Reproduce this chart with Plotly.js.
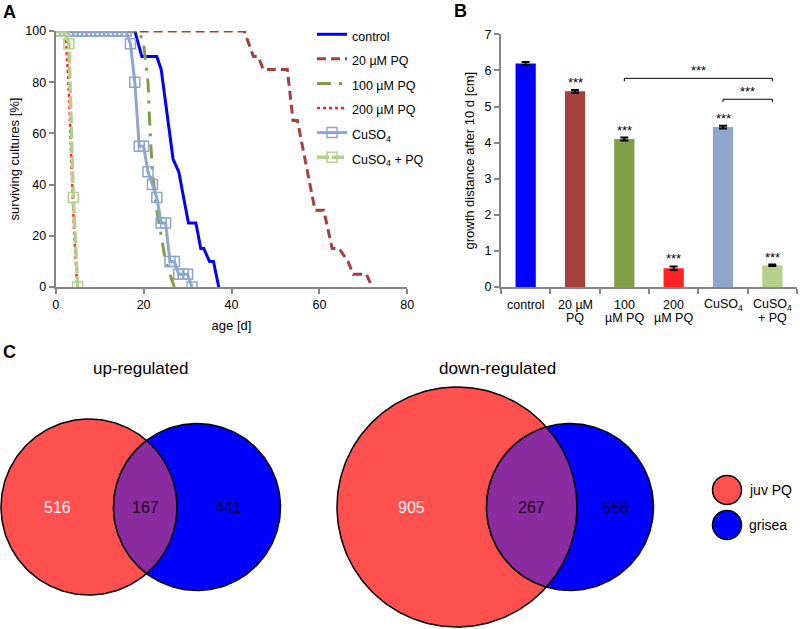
<!DOCTYPE html>
<html>
<head>
<meta charset="utf-8">
<script src="https://cdn.plot.ly/plotly-3.0.1.min.js"></script>
<style>
  html, body { margin: 0; padding: 0; background: #fff; }
  #gd { width: 800px; height: 629px; }
</style>
</head>
<body>
<div id="gd"></div>
<script>
// ---- panel A: surviving cultures [%] vs age [d]
var controlAge  = [0, 18, 19.6, 23, 24, 26.7, 28, 30.2, 31.9, 33, 33.7, 35, 35.9, 37.1];
var controlSurv = [100, 100, 90, 90, 85, 50, 45, 25, 25, 15, 15, 10, 10, 0];

var pq20Age  = [0, 42.9, 45, 46.1, 47.2, 52.7, 54, 55, 59, 61, 62.9, 64.5, 66.5, 67.7, 70.7, 72];
var pq20Surv = [100, 100, 90, 90, 85, 85, 65, 65, 30, 30, 15, 15, 10, 5, 5, 0];

var pq100Age  = [0, 19, 20, 21, 21.5, 22, 23, 24, 25, 26, 27];
var pq100Surv = [100, 100, 95, 80, 60, 45, 30, 20, 10, 5, 0];

var pq200Age  = [0, 2, 2.4, 3.1, 3.6, 4.2, 4.8, 5];
var pq200Surv = [100, 100, 95, 73, 47, 21, 3, 0];

var cuAge  = [0, 1, 2, 3, 4, 5, 6, 7, 8, 9, 10, 11, 12, 13, 14, 15, 16, 17, 18, 19, 20, 21, 22, 23, 24, 25, 26, 27, 28, 29, 30, 31];
var cuSurv = [100, 100, 100, 100, 100, 100, 100, 100, 100, 100, 100, 100, 100, 100, 100, 100, 100, 95, 80, 55, 55, 45, 40, 35, 25, 25, 10, 10, 5, 5, 5, 0];

var cuPqAge  = [0, 1, 2, 3, 4, 5];
var cuPqSurv = [100, 100, 100, 95, 35, 0];

// ---- panel B: growth distance after 10 d [cm]
var growthCats  = ['control', '20 µM PQ', '100 µM PQ', '200 µM PQ', 'CuSO4', 'CuSO4 + PQ'];
var growthLine1 = ['control', '20 µM', '100', '200', 'CuSO<sub>4</sub>', 'CuSO<sub>4</sub>'];
var growthLine2 = ['', 'PQ', 'µM PQ', 'µM PQ', '', '+ PQ'];
var growthMean  = [6.19, 5.42, 4.10, 0.52, 4.43, 0.60];
var growthErr   = [0.04, 0.04, 0.04, 0.05, 0.04, 0.02];
var growthStars = ['', '***', '***', '***', '***', '***'];
var bracketPairs  = [[2, 5], [4, 5]];
var bracketLevels = [5.78, 5.2];
var bracketLabels = ['***', '***'];

// ---- panel C: venn counts (juv PQ only, shared, grisea only)
var vennTitles = ['up-regulated', 'down-regulated'];
var vennJuvOnly = [516, 905];
var vennShared  = [167, 267];
var vennGrisea  = [441, 556];
var vennSets    = ['juv PQ', 'grisea'];

var FONT = 'Liberation Sans, Arial, sans-serif';
var AXC = '#868686';
var barColors = ['#0000ff', '#a5403d', '#7f9f47', '#ff2222', '#8ea6cc', '#b6cf8d'];

// circle geometry for the venn diagrams (pixel units of the bottom panel)
var vennGeo = [
  {a: {cx: 89, cy: 507, r: 88}, b: {cx: 197, cy: 507, r: 83.5}},
  {a: {cx: 457, cy: 507, r: 120}, b: {cx: 570, cy: 507, r: 83.5}}
];

function circlePath(c, n) {
  var xs = [], ys = [];
  for (var i = 0; i <= n; i++) {
    var t = 2 * Math.PI * i / n;
    xs.push(c.cx + c.r * Math.cos(t));
    ys.push(c.cy + c.r * Math.sin(t));
  }
  return {x: xs, y: ys};
}

// overlap of two circles: arc of a inside b, then arc of b inside a
function lensPath(a, b, n) {
  var dx = b.cx - a.cx, dy = b.cy - a.cy;
  var d = Math.sqrt(dx * dx + dy * dy);
  var ang = Math.atan2(dy, dx);
  var p = (d * d + a.r * a.r - b.r * b.r) / (2 * d);
  var h = Math.sqrt(a.r * a.r - p * p);
  var tA = Math.atan2(h, p);
  var tB = Math.atan2(h, p - d);
  var xs = [], ys = [], i, t;
  for (i = 0; i <= n; i++) {
    t = ang - tA + 2 * tA * i / n;
    xs.push(a.cx + a.r * Math.cos(t));
    ys.push(a.cy + a.r * Math.sin(t));
  }
  for (i = 0; i <= n; i++) {
    t = ang + tB + (2 * Math.PI - 2 * tB) * i / n;
    xs.push(b.cx + b.r * Math.cos(t));
    ys.push(b.cy + b.r * Math.sin(t));
  }
  return {x: xs, y: ys};
}

// legend text is drawn smaller than the legend font so rows stay ~25px apart
function lg(s) { return '<span style="font-size:12.5px">' + s + '</span>'; }

var traces = [
  {x: controlAge, y: controlSurv, name: lg('control'), mode: 'lines',
   line: {color: '#0000ff', width: 3}},
  {x: pq20Age, y: pq20Surv, name: lg('20 µM PQ'), mode: 'lines',
   line: {color: '#a5403d', width: 3, dash: '9px,5px'}},
  {x: pq100Age, y: pq100Surv, name: lg('100 µM PQ'), mode: 'lines',
   line: {color: '#7f9f47', width: 3, dash: '14px,8px,3px,8px'}},
  {x: pq200Age, y: pq200Surv, name: lg('200 µM PQ'), mode: 'lines',
   line: {color: '#ff2222', width: 2.5, dash: 'dot'}},
  {x: cuAge, y: cuSurv, name: lg('CuSO<sub>4</sub>'), mode: 'lines+markers',
   line: {color: '#8ea6cc', width: 3},
   marker: {symbol: 'square-open', size: 10, color: '#8ea6cc', line: {width: 1.5}}},
  {x: cuPqAge, y: cuPqSurv, name: lg('CuSO<sub>4</sub> + PQ'), mode: 'lines+markers',
   line: {color: '#b6cf8d', width: 3.5, dash: '12px,3px'},
   marker: {symbol: 'square-open', size: 10, color: '#b6cf8d', line: {width: 1.5}}}
];
traces.forEach(function (t) { t.xaxis = 'x'; t.yaxis = 'y'; t.hoverinfo = 'skip'; });

traces.push({
  type: 'bar', x: growthCats, y: growthMean, xaxis: 'x2', yaxis: 'y2',
  marker: {color: barColors}, showlegend: false, hoverinfo: 'skip',
  error_y: {type: 'data', array: growthErr, visible: true, color: '#000', thickness: 2, width: 4}
});

// venn circles
var vennFill = ['#ff5050', '#0000ff'];
vennGeo.forEach(function (g) {
  [g.a, g.b].forEach(function (c, k) {
    var p = circlePath(c, 240);
    traces.push({x: p.x, y: p.y, xaxis: 'x3', yaxis: 'y3', mode: 'lines', fill: 'toself',
      fillcolor: vennFill[k], line: {color: '#000', width: 1.5}, showlegend: false, hoverinfo: 'skip'});
  });
  var l = lensPath(g.a, g.b, 120);
  traces.push({x: l.x, y: l.y, xaxis: 'x3', yaxis: 'y3', mode: 'lines', fill: 'toself',
    fillcolor: '#8a2ca0', line: {color: '#000', width: 1.5}, showlegend: false, hoverinfo: 'skip'});
});
// venn legend markers
traces.push({x: [727, 727], y: [490, 525], xaxis: 'x3', yaxis: 'y3', mode: 'markers',
  marker: {size: 29, color: vennFill, line: {color: '#000', width: 1.5}},
  showlegend: false, hoverinfo: 'skip'});

var annotations = [
  {text: '<b>A</b>', x: 1 / 800, y: 1 - 12 / 629},
  {text: '<b>B</b>', x: 452 / 800, y: 1 - 11 / 629},
  {text: '<b>C</b>', x: 1 / 800, y: 1 - 352 / 629}
].map(function (a) {
  a.xref = 'paper'; a.yref = 'paper'; a.xanchor = 'left'; a.yanchor = 'middle'; a.showarrow = false;
  a.font = {family: FONT, size: 18, color: '#000'};
  return a;
});

// bar labels (two short lines under each bar) and significance stars
growthCats.forEach(function (c, i) {
  annotations.push({x: c, y: 0, xref: 'x2', yref: 'y2', text: growthLine1[i], showarrow: false,
    yanchor: 'middle', yshift: -18, font: {family: FONT, size: 12.5, color: '#000'}});
  if (growthLine2[i]) {
    annotations.push({x: c, y: 0, xref: 'x2', yref: 'y2', text: growthLine2[i], showarrow: false,
      yanchor: 'middle', yshift: -31, font: {family: FONT, size: 12.5, color: '#000'}});
  }
  if (growthStars[i]) {
    annotations.push({x: c, y: growthMean[i] + growthErr[i], xref: 'x2', yref: 'y2', text: growthStars[i],
      showarrow: false, yanchor: 'bottom', yshift: -2, font: {family: FONT, size: 13, color: '#000'}});
  }
});

var shapes = [];
bracketPairs.forEach(function (pr, k) {
  var y = bracketLevels[k], x0 = pr[0], x1 = pr[1];
  shapes.push({type: 'path', xref: 'x2', yref: 'y2',
    path: 'M' + x0 + ',' + (y - 0.08) + ' L' + x0 + ',' + y + ' L' + x1 + ',' + y + ' L' + x1 + ',' + (y - 0.08),
    line: {color: '#000', width: 1}});
  annotations.push({x: (x0 + x1) / 2, y: y, xref: 'x2', yref: 'y2', text: bracketLabels[k], showarrow: false,
    yanchor: 'bottom', yshift: -2, font: {family: FONT, size: 13, color: '#000'}});
});

// venn texts
var vennCx = [140, 497];
vennGeo.forEach(function (g, i) {
  annotations.push({x: vennCx[i], y: 368, xref: 'x3', yref: 'y3', text: vennTitles[i], showarrow: false,
    font: {family: FONT, size: 17, color: '#000'}});
  var left = g.a.cx - g.a.r, right = g.b.cx + g.b.r;
  var mid = (g.b.cx - g.b.r + g.a.cx + g.a.r) / 2;
  var vals = [vennJuvOnly[i], vennShared[i], vennGrisea[i]];
  var xs = [(left + g.b.cx - g.b.r) / 2, mid, (g.a.cx + g.a.r + right) / 2];
  var cols = ['#fff4f4', '#220022', '#000033'];
  vals.forEach(function (v, k) {
    annotations.push({x: xs[k], y: g.a.cy, xref: 'x3', yref: 'y3', text: String(v), showarrow: false,
      font: {family: FONT, size: 16, color: cols[k]}});
  });
});
vennSets.forEach(function (s, k) {
  annotations.push({x: 747, y: [490, 525][k], xref: 'x3', yref: 'y3', text: s, showarrow: false,
    xanchor: 'left', font: {family: FONT, size: 14, color: '#000'}});
});

var layout = {
  width: 800, height: 629,
  margin: {l: 0, r: 0, t: 0, b: 0},
  paper_bgcolor: '#fff', plot_bgcolor: 'rgba(0,0,0,0)',
  font: {family: FONT, size: 12, color: '#000'},
  showlegend: true,
  legend: {x: 0.39, y: 0.973, xanchor: 'left', yanchor: 'top', bgcolor: 'rgba(0,0,0,0)',
    font: {family: FONT, size: 16.6, color: '#000'}},
  xaxis: {domain: [55.7 / 800, 407.3 / 800], anchor: 'y', range: [0, 80], dtick: 20,
    showgrid: false, zeroline: false, showline: true, linecolor: AXC, linewidth: 2,
    ticks: 'outside', ticklen: 5, tickwidth: 2, tickcolor: AXC,
    tickfont: {size: 12.5},
    title: {text: 'age [d]', font: {size: 13}, standoff: 10}},
  yaxis: {domain: [(629 - 287) / 629, (629 - 31) / 629], anchor: 'x', range: [0, 100], dtick: 20,
    showgrid: false, zeroline: false, showline: true, linecolor: AXC, linewidth: 2,
    ticks: 'outside', ticklen: 5, tickwidth: 2, tickcolor: AXC,
    tickfont: {size: 12.5},
    title: {text: 'surviving cultures [%]', font: {size: 13}, standoff: 3}},
  xaxis2: {domain: [501 / 800, 797 / 800], anchor: 'y2', type: 'category', range: [-0.5, 5.5],
    showgrid: false, zeroline: false, showline: true, linecolor: AXC, linewidth: 2,
    ticks: 'outside', tickson: 'boundaries', ticklen: 5, tickwidth: 2, tickcolor: AXC,
    showticklabels: false},
  yaxis2: {domain: [(629 - 287) / 629, (629 - 34.3) / 629], anchor: 'x2', range: [0, 7], dtick: 1,
    showgrid: false, zeroline: false, showline: true, linecolor: AXC, linewidth: 2,
    ticks: 'outside', ticklen: 5, tickwidth: 2, tickcolor: AXC,
    tickfont: {size: 12.5},
    title: {text: 'growth distance after 10 d [cm]', font: {size: 13}, standoff: 7}},
  xaxis3: {domain: [0, 1], anchor: 'y3', range: [0, 800], visible: false, fixedrange: true},
  yaxis3: {domain: [0, 289 / 629], anchor: 'x3', range: [629, 340], visible: false, fixedrange: true},
  bargap: 0.59,
  annotations: annotations,
  shapes: shapes
};

Plotly.newPlot('gd', traces, layout, {staticPlot: true, displayModeBar: false});
</script>
</body>
</html>
